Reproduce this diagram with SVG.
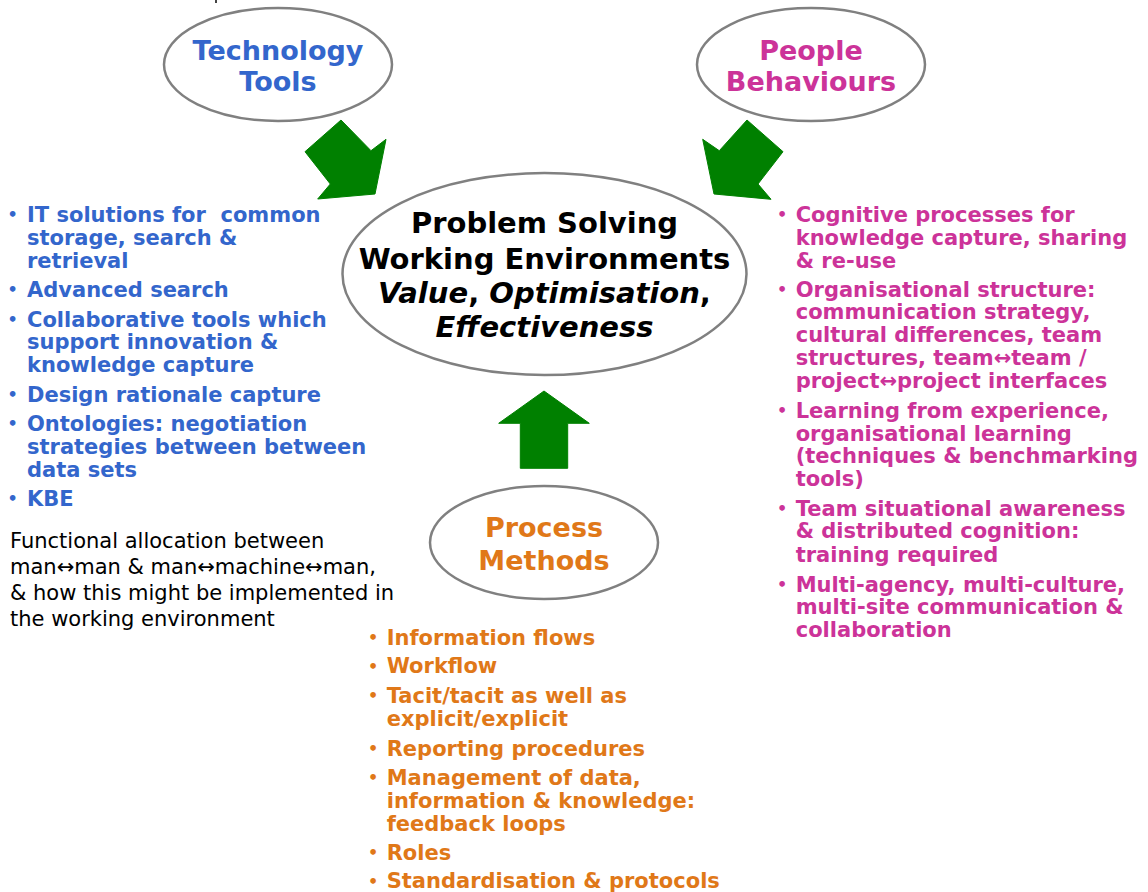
<svg xmlns="http://www.w3.org/2000/svg" width="1148" height="892" viewBox="0 0 1148 892">
  <style>
    .oval { fill: #ffffff; stroke: #808080; stroke-width: 2.5; }
    .big { font-family: "DejaVu Sans", Verdana, sans-serif; font-weight: bold; font-size: 27px; text-anchor: middle; }
    .centre { font-family: "DejaVu Sans", Verdana, sans-serif; font-weight: bold; font-size: 29px; text-anchor: middle; fill: #000000; }
    .list { font-family: "DejaVu Sans", Verdana, sans-serif; font-weight: bold; font-size: 21px; }
    .dot { font-size: 16px; }
    .note { font-family: "DejaVu Sans", Verdana, sans-serif; font-size: 21px; fill: #000000; }
    .blue { fill: #3366CC; }
    .pink { fill: #CC3399; }
    .orange { fill: #E07818; }
    .arrow { fill: #008000; stroke: #008000; stroke-width: 1; stroke-linejoin: round; }
  </style>

  <rect width="1148" height="892" fill="#ffffff"/>
  <rect x="215" y="0" width="2" height="3" fill="#444444"/>

  <!-- block arrows feeding the central oval -->
  <g id="connectors">
    <polygon class="arrow" points="341,120 371,150.7 386,139.3 375,194 317.7,199 330.3,184 305,151.7"/>
    <polygon class="arrow" points="747,120 783,151.7 758,184 771,199.3 714,194 702.7,139.3 719.3,150.7"/>
    <polygon class="arrow" points="544,391 589.3,423.3 567.7,423.3 567.7,468.3 520.3,468.3 520.3,423.3 498.7,423.3"/>
  </g>

  <g id="technology-tools">
    <ellipse class="oval" cx="278" cy="64.5" rx="114" ry="56.5"/>
    <text class="big blue" x="278" y="59.5">Technology</text>
    <text class="big blue" x="278" y="91">Tools</text>
  </g>

  <g id="people-behaviours">
    <ellipse class="oval" cx="811" cy="64.5" rx="114" ry="56.5"/>
    <text class="big pink" x="811" y="59.5">People</text>
    <text class="big pink" x="811" y="91">Behaviours</text>
  </g>

  <g id="problem-solving">
    <ellipse class="oval" cx="544.5" cy="274" rx="202" ry="101"/>
    <text class="centre" x="544.5" y="233">Problem Solving</text>
    <text class="centre" x="544.5" y="268.5">Working Environments</text>
    <text class="centre" x="544.5" y="303"><tspan font-style="italic">Value</tspan>, <tspan font-style="italic">Optimisation</tspan>,</text>
    <text class="centre" x="544.5" y="337" font-style="italic">Effectiveness</text>
  </g>

  <g id="process-methods">
    <ellipse class="oval" cx="544" cy="542.5" rx="114" ry="56.5"/>
    <text class="big orange" x="544" y="537">Process</text>
    <text class="big orange" x="544" y="569.5">Methods</text>
  </g>

  <!-- technology list -->
  <g id="technology-list" class="list blue">
    <text class="dot" x="7.5" y="220">•</text>
    <text x="27" y="221.7">IT solutions for&#160; common</text>
    <text x="27" y="245">storage, search &amp;</text>
    <text x="27" y="267.7">retrieval</text>
    <text class="dot" x="7.5" y="295">•</text>
    <text x="27" y="296.7">Advanced search</text>
    <text class="dot" x="7.5" y="325">•</text>
    <text x="27" y="326.7">Collaborative tools which</text>
    <text x="27" y="349.3">support innovation &amp;</text>
    <text x="27" y="372">knowledge capture</text>
    <text class="dot" x="7.5" y="400">•</text>
    <text x="27" y="401.7">Design rationale capture</text>
    <text class="dot" x="7.5" y="429.3">•</text>
    <text x="27" y="431">Ontologies: negotiation</text>
    <text x="27" y="454">strategies between between</text>
    <text x="27" y="476.7">data sets</text>
    <text class="dot" x="7.5" y="504">•</text>
    <text x="27" y="505.7">KBE</text>
  </g>

  <g id="allocation-note" class="note">
    <text x="10" y="548.3">Functional allocation between</text>
    <text x="10" y="574">man↔man &amp; man↔machine↔man,</text>
    <text x="10" y="600">&amp; how this might be implemented in</text>
    <text x="10" y="625.7">the working environment</text>
  </g>

  <!-- people list -->
  <g id="people-list" class="list pink">
    <text class="dot" x="777" y="220">•</text>
    <text x="795.7" y="221.7">Cognitive processes for</text>
    <text x="795.7" y="245">knowledge capture, sharing</text>
    <text x="795.7" y="267.7">&amp; re-use</text>
    <text class="dot" x="777" y="295">•</text>
    <text x="795.7" y="296.7">Organisational structure:</text>
    <text x="795.7" y="319.3">communication strategy,</text>
    <text x="795.7" y="342.3">cultural differences, team</text>
    <text x="795.7" y="365">structures, team↔team /</text>
    <text x="795.7" y="388.3">project↔project interfaces</text>
    <text class="dot" x="777" y="416">•</text>
    <text x="795.7" y="417.7">Learning from experience,</text>
    <text x="795.7" y="440.7">organisational learning</text>
    <text x="795.7" y="463.3">(techniques &amp; benchmarking</text>
    <text x="795.7" y="486">tools)</text>
    <text class="dot" x="777" y="514">•</text>
    <text x="795.7" y="515.7">Team situational awareness</text>
    <text x="795.7" y="538.3">&amp; distributed cognition:</text>
    <text x="795.7" y="561.7">training required</text>
    <text class="dot" x="777" y="590">•</text>
    <text x="795.7" y="591.7">Multi-agency, multi-culture,</text>
    <text x="795.7" y="614">multi-site communication &amp;</text>
    <text x="795.7" y="636.7">collaboration</text>
  </g>

  <!-- process list -->
  <g id="process-list" class="list orange">
    <text class="dot" x="368" y="643.3">•</text>
    <text x="386.7" y="645">Information flows</text>
    <text class="dot" x="368" y="671.6">•</text>
    <text x="386.7" y="673.3">Workflow</text>
    <text class="dot" x="368" y="701">•</text>
    <text x="386.7" y="702.7">Tacit/tacit as well as</text>
    <text x="386.7" y="726">explicit/explicit</text>
    <text class="dot" x="368" y="754.3">•</text>
    <text x="386.7" y="756">Reporting procedures</text>
    <text class="dot" x="368" y="783.3">•</text>
    <text x="386.7" y="785">Management of data,</text>
    <text x="386.7" y="808.3">information &amp; knowledge:</text>
    <text x="386.7" y="831">feedback loops</text>
    <text class="dot" x="368" y="858.3">•</text>
    <text x="386.7" y="860">Roles</text>
    <text class="dot" x="368" y="886.6">•</text>
    <text x="386.7" y="888.3">Standardisation &amp; protocols</text>
  </g>
</svg>
